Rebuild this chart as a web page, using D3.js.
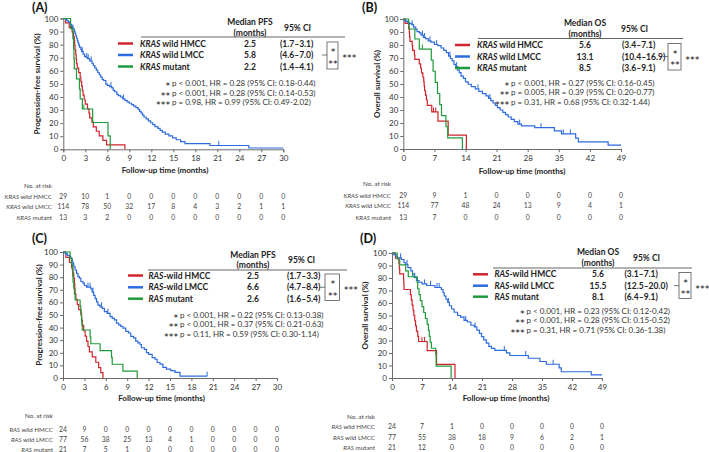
<!DOCTYPE html>
<html><head><meta charset="utf-8">
<script src="https://cdn.jsdelivr.net/npm/d3@7"></script>
<style>body{margin:0;background:#fff}svg{display:block;font-family:Lato,"Open Sans",sans-serif}</style>
</head><body><svg id="c" width="709" height="452"></svg>
<script>
// ---------------- DATA ----------------
// Kaplan-Meier steps: [time (months), survival (%)]
const aHmcc = [[0,100],[0.3,96.6],[0.8,93.1],[1.2,89.7],[1.4,86.2],[1.5,82.8],[1.55,79.3],[1.6,75.9],[1.7,72.4],[1.75,69],[1.8,65.5],[1.9,62.1],[2.1,58.6],[2.3,55.2],[2.4,51.7],[2.5,48.3],[2.6,44.8],[2.7,41.4],[2.85,37.9],[3.0,34.5],[3.3,31],[3.5,27.6],[3.6,24.1],[3.9,20.7],[4.1,17.2],[4.5,13.8],[4.9,10.3],[5.4,6.9],[5.9,3.4],[8.4,0]];
const aLmcc = [[0,100],[0.3,99.1],[0.5,98.2],[0.7,97.4],[0.9,95.6],[1.1,93.9],[1.3,92.1],[1.5,90.4],[1.6,88.6],[1.7,86.8],[1.8,85.1],[1.9,83.3],[2.0,81.6],[2.1,79.8],[2.2,78.1],[2.4,76.3],[2.5,74.6],[2.7,72.8],[2.9,71.1],[3.1,70.2],[3.3,69.3],[3.6,67.6],[3.9,65.8],[4.1,64.0],[4.3,62.3],[4.5,60.5],[4.7,58.7],[4.9,57.0],[5.1,55.2],[5.3,53.5],[5.5,52.6],[5.8,49.9],[6.0,48.9],[6.3,47.9],[6.6,46.9],[6.8,45.0],[7.0,44.0],[7.3,42.0],[7.5,41.0],[7.8,40.0],[8.1,38.5],[8.4,37.4],[8.7,36.3],[9.0,35.2],[9.3,34.1],[9.6,33.0],[9.9,31.9],[10.2,30.5],[10.4,29.0],[10.6,27.6],[10.8,26.1],[11.0,24.7],[11.3,23.2],[11.6,21.8],[11.9,20.3],[12.2,18.9],[12.5,17.4],[12.9,16.0],[13.2,14.5],[13.5,13.1],[13.9,11.6],[14.4,10.2],[14.9,8.7],[15.4,7.3],[16.0,5.8],[16.6,4.4],[20.0,2.9],[25.3,1.0],[30,1.0]];
const aMut = [[0,100],[1.0,92.3],[1.3,84.6],[1.4,76.9],[1.45,69.2],[1.5,61.5],[1.8,53.8],[2.2,46.2],[2.3,38.5],[2.6,30.8],[4.0,20.5],[6.1,10.3],[6.4,0]];
const aCensor = [[], [1.3,2.6,3.2,3.4,3.8,6.5,8.2,21.2], [2.8]];

const bHmcc = [[0,100],[0.4,96.6],[1.3,93.1],[1.35,89.7],[1.4,86.2],[1.5,82.8],[2.0,79.3],[2.1,75.9],[2.5,72.4],[2.6,69],[3.6,65.5],[3.9,62.1],[4.1,58.6],[4.4,55.2],[4.6,51.7],[4.7,48.3],[4.8,44.8],[5.0,41.4],[5.2,37.9],[5.4,33.5],[6.4,28.5],[7.8,21.4],[10.1,10.7],[14.2,0]];
const bLmcc = [[0,100],[0.3,99.1],[0.6,98.2],[1.0,97.4],[1.4,96.5],[1.9,95.6],[2.3,93.8],[2.8,92.0],[3.1,90.3],[3.6,89.4],[4.0,87.6],[4.5,85.8],[5.0,84.9],[5.6,83.1],[6.2,82.2],[7.0,80.4],[7.8,79.5],[8.5,77.7],[9.1,75.9],[9.7,74.1],[10.2,71.4],[10.6,69.6],[11.0,67.8],[11.4,65.1],[11.8,63.3],[12.2,60.6],[12.6,58.8],[13.0,56.1],[13.5,54.3],[14.0,51.6],[14.6,49.8],[15.3,48.0],[16.2,46.2],[17.0,44.4],[17.8,42.6],[18.6,40.8],[19.2,39.0],[19.7,37.2],[20.2,35.4],[20.7,33.6],[21.2,31.8],[21.8,30.0],[22.4,28.2],[23.0,26.4],[23.6,24.6],[24.3,22.8],[25.0,21.0],[25.8,19.2],[26.6,17.8],[29.6,16.4],[34.0,14.0],[35.6,11.6],[38.8,8.3],[39.4,5.5],[46.1,3.0],[49,3.0]];
const bMut = [[0,100],[1.2,92.3],[2.6,84.6],[3.6,76.9],[6.3,68.4],[6.7,59.8],[7.2,51.3],[7.7,42.7],[8.2,34.2],[8.6,25.6],[9.6,17.1],[10.0,8.5],[13.3,0]];
const bCensor = [[6.8,7.3], [2.0,4.3,4.8,6.0,7.5,10.5,12.0,16.8,19.5,26.2,31.0,36.0,37.6], [4.3]];

const cHmcc = [[0,100],[0.4,95.8],[0.9,91.7],[1.2,87.5],[1.4,83.3],[1.5,79.2],[1.6,75],[1.65,70.8],[1.7,66.7],[1.8,62.5],[2.0,58.3],[2.2,54.2],[2.5,50],[2.6,45.8],[2.7,41.7],[2.9,37.5],[3.1,33.3],[3.3,29.2],[3.5,25],[3.7,20.8],[4.1,16.7],[4.6,12.5],[5.0,8.3],[5.3,4.2],[5.6,0]];
const cLmcc = [[0,100],[0.3,98.7],[0.6,97.4],[0.9,96.1],[1.1,94.8],[1.3,92.2],[1.4,90.9],[1.5,88.3],[1.7,85.7],[1.9,83.1],[2.1,80.5],[2.3,79.2],[2.5,76.6],[2.8,75.3],[3.0,73.4],[3.3,72.1],[3.9,70.8],[4.1,68.2],[4.3,65.6],[4.5,63.0],[4.7,60.4],[4.9,57.8],[5.2,56.5],[5.5,55.2],[5.8,52.6],[6.2,51.3],[6.6,48.7],[6.9,47.4],[7.2,46.1],[7.5,43.5],[7.8,42.2],[8.1,40.9],[8.4,39.6],[8.8,37.0],[9.2,35.7],[9.5,33.1],[9.9,31.8],[10.2,29.2],[10.5,27.9],[10.8,26.6],[11.0,24.0],[11.4,22.7],[11.7,20.1],[12.0,18.8],[12.5,16.2],[12.9,14.9],[13.2,12.3],[13.6,11.0],[14.0,8.4],[14.5,7.1],[15.1,5.8],[15.7,4.5],[16.4,1.5],[20.2,1.5]];
const cMut = [[0,100],[1.0,95.2],[1.2,90.5],[1.3,85.7],[1.35,81],[1.4,76.2],[1.5,71.4],[1.6,66.7],[1.7,61.9],[2.4,57.1],[2.5,52.4],[2.6,47.6],[2.65,42.9],[2.7,38.1],[3.8,32.7],[3.9,27.2],[5.2,21.8],[6.8,16.3],[6.9,10.9],[8.4,5.4],[10.4,0]];
const cCensor = [[], [3.5,3.8,4.2,5.4,6.3,20.2], []];

const dHmcc = [[0,100],[0.8,95.8],[1.6,91.7],[1.7,87.5],[1.8,83.3],[2.7,79.2],[2.75,75],[2.8,70.8],[4.3,66.7],[4.5,62.5],[4.7,58.3],[4.9,54.2],[5.1,50],[5.3,45.8],[5.5,41.7],[5.7,37.5],[6.0,33.3],[6.2,29.2],[8.2,21.9],[10.4,10.9],[14.7,0]];
const dLmcc = [[0,100],[0.4,98.7],[0.9,97.4],[1.3,96.1],[2.2,94.8],[2.8,92.2],[3.2,90.9],[3.7,88.3],[4.4,85.7],[4.8,83.1],[5.2,80.5],[5.7,77.9],[6.3,76.6],[7.0,75.3],[8.1,74.0],[10.0,72.4],[11.5,70.8],[11.9,68.2],[12.2,65.6],[12.6,63.0],[13.0,60.4],[13.4,57.8],[13.9,55.2],[14.5,52.6],[15.3,50.0],[16.0,48.7],[16.8,46.1],[17.6,44.8],[18.4,42.2],[19.2,40.9],[19.8,38.3],[20.4,35.7],[20.9,33.1],[21.4,30.5],[22.0,27.9],[22.6,25.3],[23.2,23.7],[24.0,22.1],[26.7,20.1],[27.5,18.0],[31.8,15.8],[34.5,13.2],[36.0,11.0],[39.0,8.1],[39.5,5.0],[46.5,2.5],[49,2.5]];
const dMut = [[0,100],[1.2,95.2],[1.8,90.5],[3.2,85.7],[3.8,81],[5.9,76.2],[6.0,71.4],[6.3,66.7],[6.6,61.9],[7.0,57.1],[7.4,52.4],[7.8,47.6],[8.2,42.9],[8.5,38.1],[8.7,33.3],[8.9,28.6],[9.2,23.8],[10.2,19],[10.3,9.5],[13.8,0]];
const dCensor = [[7.0,7.6], [2.0,3.5,5.3,7.6,9.0,10.5,11.0,13.2,17.2,19.4,26.2,31.2,37.6], [4.8]];

// Legend / table text
const aGroups = [["KRAS"," wild HMCC"],["KRAS"," wild LMCC"],["KRAS"," mutant"]];
const cGroups = [["RAS","-wild HMCC"],["RAS","-wild LMCC"],["RAS"," mutant"]];
const aRiskNames = [["KRAS"," wild HMCC"],["KRAS"," wild LMCC"],["KRAS"," mutant"]];
const cRiskNames = [["RAS"," wild HMCC"],["RAS"," wild LMCC"],["RAS"," mutant"]];
const aMedian = ["2.5","5.8","2.2"], aCI = ["(1.7–3.1)","(4.6–7.0)","(1.4–4.1)"];
const bMedian = ["5.6","13.1","8.5"], bCI = ["(3.4–7.1)","(10.4–16.9)","(3.6–9.1)"];
const cMedian = ["2.5","6.6","2.6"], cCI = ["(1.7–3.3)","(4.7–8.4)","(1.6–5.4)"];
const dMedian = ["5.6","15.5","8.1"], dCI = ["(3.1–7.1)","(12.5–20.0)","(6.4–9.1)"];
const aStats = ["p < 0.001, HR = 0.28 (95% CI: 0.18-0.44)","p < 0.001, HR = 0.28 (95% CI: 0.14-0.53)","p = 0.98, HR = 0.99 (95% CI: 0.49-2.02)"];
const bStats = ["p < 0.001, HR = 0.27 (95% CI: 0.16-0.45)","p = 0.005, HR = 0.39 (95% CI: 0.20-0.77)","p = 0.31, HR = 0.68 (95% CI: 0.32-1.44)"];
const cStats = ["p < 0.001, HR = 0.22 (95% CI: 0.13-0.38)","p < 0.001, HR = 0.37 (95% CI: 0.21-0.63)","p = 0.11, HR = 0.59 (95% CI: 0.30-1.14)"];
const dStats = ["p < 0.001, HR = 0.23 (95% CI: 0.12-0.42)","p < 0.001, HR = 0.28 (95% CI: 0.15-0.52)","p = 0.31, HR = 0.71 (95% CI: 0.36-1.38)"];
const starLabels = ["∗","∗∗","∗∗∗"];
// Number at risk
const aRisk = [[29,10,1,0,0,0,0,0,0,0,0],[114,78,50,32,17,8,4,3,2,1,1],[13,3,2,0,0,0,0,0,0,0,0]];
const bRisk = [[29,9,1,0,0,0,0,0],[114,77,48,24,13,9,4,1],[13,7,0,0,0,0,0,0]];
const cRisk = [[24,9,0,0,0,0,0,0,0,0,0],[77,56,38,25,13,4,1,0,0,0,0],[21,7,5,1,0,0,0,0,0,0,0]];
const dRisk = [[24,7,1,0,0,0,0,0],[77,55,38,18,9,6,2,1],[21,12,0,0,0,0,0,0]];
const pfsTicks = [0,3,6,9,12,15,18,21,24,27,30];
const osTicks = [0,7,14,21,28,35,42,49];
const yTicks = [0,10,20,30,40,50,60,70,80,90,100];

// ---------------- DRAW ----------------
const COLORS = ["#d0232b","#2c6be0","#1f9a3b"];
const svg = d3.select("#c");
const STAR_FONT = "'DejaVu Sans',sans-serif";

function sAt(data, t){ let v = data[0][1]; for(const d of data){ if(d[0] <= t) v = d[1]; } return v; }
function italicLabel(sel, parts){ sel.append("tspan").attr("font-style","italic").text(parts[0]); sel.append("tspan").text(parts[1]); }
function stars(g, xp, yp, txt, anchor){
  return g.append("text").attr("x",xp).attr("y",yp).attr("text-anchor",anchor).attr("font-size",6.3)
    .attr("letter-spacing",-0.5).attr("font-family",STAR_FONT).attr("fill","#333").text(txt);
}

function panel(P){
  const g = svg.append("g");
  const x = d3.scaleLinear().domain([0, P.ticks[P.ticks.length-1]]).range([P.x0, P.x1]);
  const y = d3.scaleLinear().domain([0,100]).range([P.yB, P.yT]);
  g.append("text").attr("x",P.titleX).attr("y",P.titleY).attr("font-size",12.5).attr("font-weight",700).attr("fill","#111").text(P.title);
  const ya = g.append("g").attr("transform",`translate(${P.x0},0)`).call(d3.axisLeft(y).tickValues(yTicks).tickSize(3).tickPadding(2));
  const xa = g.append("g").attr("transform",`translate(0,${P.yB})`).call(d3.axisBottom(x).tickValues(P.ticks).tickSize(3).tickPadding(3));
  [ya,xa].forEach(a=>{ a.select(".domain").attr("stroke","#6b6b6b"); a.selectAll(".tick line").attr("stroke","#6b6b6b"); a.selectAll("text").attr("font-size",8).attr("fill","#333").attr("font-family","Lato,sans-serif"); });
  g.append("text").attr("transform",`translate(${P.yLabelX},${(P.yT+P.yB)/2}) rotate(-90)`).attr("text-anchor","middle").attr("font-size",8).attr("font-weight",700).attr("fill","#222").text(P.yLabel);
  g.append("text").attr("x",P.xLabelX).attr("y",P.xLabelY).attr("text-anchor","middle").attr("font-size",8).attr("font-weight",700).attr("fill","#222").text("Follow-up time (months)");
  const line = d3.line().x(d=>x(d[0])).y(d=>y(d[1])).curve(d3.curveStepAfter);
  P.series.forEach((s,i)=>{
    g.append("path").datum(s).attr("d",line).attr("fill","none").attr("stroke",COLORS[i]).attr("stroke-width",1.2);
    g.selectAll(null).data(P.censor[i]).enter().append("line")
      .attr("x1",t=>x(t)).attr("x2",t=>x(t)).attr("y1",t=>y(sAt(s,t))).attr("y2",t=>y(sAt(s,t))-4.5)
      .attr("stroke",COLORS[i]).attr("stroke-width",1);
  });
  const L = P.leg;
  g.append("text").attr("x",L.medX).attr("y",L.head1Y).attr("text-anchor","middle").attr("font-size",8.5).attr("font-weight",700).attr("fill","#222").text(P.medName);
  g.append("text").attr("x",L.medX).attr("y",L.head1Y+10.5).attr("text-anchor","middle").attr("font-size",8.5).attr("font-weight",700).attr("fill","#222").text("(months)");
  g.append("text").attr("x",L.ciHeadX).attr("y",L.head1Y+5.5).attr("font-size",8.5).attr("font-weight",700).attr("fill","#222").text("95% CI");
  g.append("line").attr("x1",L.ruleX0).attr("x2",L.ruleX1).attr("y1",L.ruleY).attr("y2",L.ruleY).attr("stroke","#666").attr("stroke-width",1.2);
  L.rows.forEach((ry,i)=>{
    g.append("line").attr("x1",L.lineX0).attr("x2",L.lineX1).attr("y1",ry).attr("y2",ry).attr("stroke",COLORS[i]).attr("stroke-width",2.5);
    italicLabel(g.append("text").attr("x",L.textX).attr("y",ry+3).attr("font-size",8.5).attr("font-weight",700).attr("fill","#222"), P.groups[i]);
    g.append("text").attr("x",L.medX).attr("y",ry+3).attr("text-anchor","middle").attr("font-size",8.5).attr("font-weight",700).attr("fill","#222").text(P.median[i]);
    g.append("text").attr("x",L.ciX).attr("y",ry+3).attr("font-size",8.5).attr("font-weight",700).attr("fill","#222").text(P.ci[i]);
  });
  const B = L.br;
  g.append("rect").attr("x",B.l).attr("y",B.t).attr("width",B.r-B.l).attr("height",B.b-B.t).attr("fill","none").attr("stroke","#555").attr("stroke-width",0.8);
  g.append("line").attr("x1",B.l-5).attr("x2",B.l).attr("y1",L.rows[1]).attr("y2",L.rows[1]).attr("stroke","#555").attr("stroke-width",0.8);
  stars(g,(B.l+B.r)/2+0.3,(L.rows[0]+L.rows[1])/2+3,starLabels[0],"middle");
  stars(g,(B.l+B.r)/2+0.3,(L.rows[1]+L.rows[2])/2+3,starLabels[1],"middle");
  stars(g,B.r+4,L.rows[1]+3,starLabels[2],"start");
  P.stats.forEach((s,i)=>{
    stars(g,L.statP-2,L.statY[i],starLabels[i],"end");
    g.append("text").attr("x",L.statP).attr("y",L.statY[i]).attr("font-size",8).attr("fill","#333").text(s);
  });
  const R = P.risk;
  g.append("text").attr("x",R.labelEnd).attr("y",R.headY).attr("text-anchor","end").attr("font-size",6.3).attr("fill","#444").text("No. at risk");
  P.riskData.forEach((row,i)=>{
    italicLabel(g.append("text").attr("x",R.labelEnd).attr("y",R.rows[i]).attr("text-anchor","end").attr("font-size",6.2).attr("fill","#444"), P.riskNames[i]);
    g.selectAll(null).data(row).enter().append("text").attr("x",(d,k)=>x(P.ticks[k])).attr("y",R.rows[i]).attr("text-anchor","middle").attr("font-size",6.8).attr("fill","#444").text(d=>d);
  });
}

panel({title:"(A)",titleX:32,titleY:12,x0:63.3,x1:283.3,yT:18.5,yB:149.3,ticks:pfsTicks,yLabel:"Progression-free survival (%)",yLabelX:40,xLabelX:165,xLabelY:173,
  series:[aHmcc,aLmcc,aMut],censor:aCensor,groups:aGroups,riskNames:aRiskNames,median:aMedian,ci:aCI,stats:aStats,medName:"Median PFS",riskData:aRisk,
  leg:{lineX0:118,lineX1:133,textX:140,medX:250,ciX:280,ciHeadX:284,head1Y:25,ruleY:37,ruleX0:141,ruleX1:345,rows:[43.5,55,66.5],br:{l:327,r:338,t:42,b:69},statP:172,statY:[85.5,95.5,104.5]},
  risk:{labelEnd:52,headY:187.5,rows:[199,209,219.5]}});
panel({title:"(B)",titleX:362,titleY:12,x0:403.3,x1:621,yT:19,yB:149,ticks:osTicks,yLabel:"Overall survival (%)",yLabelX:380,xLabelX:522,xLabelY:174,
  series:[bHmcc,bLmcc,bMut],censor:bCensor,groups:aGroups,riskNames:aRiskNames,median:bMedian,ci:bCI,stats:bStats,medName:"Median OS",riskData:bRisk,
  leg:{lineX0:455,lineX1:470,textX:477,medX:585,ciX:622,ciHeadX:621,head1Y:26,ruleY:38.5,ruleX0:478,ruleX1:683,rows:[45,56.5,68],br:{l:668,r:681,t:43.5,b:70},statP:511,statY:[85.5,95,105]},
  risk:{labelEnd:391,headY:186,rows:[197.5,208,220]}});
panel({title:"(C)",titleX:32,titleY:243,x0:63,x1:277,yT:252,yB:378,ticks:pfsTicks,yLabel:"Progression-free survival (%)",yLabelX:41.5,xLabelX:161.5,xLabelY:401,
  series:[cHmcc,cLmcc,cMut],censor:cCensor,groups:cGroups,riskNames:cRiskNames,median:cMedian,ci:cCI,stats:cStats,medName:"Median PFS",riskData:cRisk,
  leg:{lineX0:128,lineX1:143,textX:148.5,medX:253,ciX:287,ciHeadX:288,head1Y:257.5,ruleY:270,ruleX0:148,ruleX1:347,rows:[275.5,287.3,298.7],br:{l:325,r:339.5,t:274,b:300.5},statP:180,statY:[317.5,327,337]},
  risk:{labelEnd:53,headY:417.5,rows:[432.3,442.3,451.8]}});
panel({title:"(D)",titleX:360,titleY:243,x0:392,x1:602,yT:253,yB:378,ticks:osTicks,yLabel:"Overall survival (%)",yLabelX:368,xLabelX:506,xLabelY:401,
  series:[dHmcc,dLmcc,dMut],censor:dCensor,groups:cGroups,riskNames:cRiskNames,median:dMedian,ci:dCI,stats:dStats,medName:"Median OS",riskData:dRisk,
  leg:{lineX0:473,lineX1:488,textX:494.5,medX:598,ciX:624.5,ciHeadX:633,head1Y:255,ruleY:268,ruleX0:493,ruleX1:692,rows:[274.3,285.7,296.7],br:{l:679,r:691,t:272.5,b:298.5},statP:526.5,statY:[313.5,323,333]},
  risk:{labelEnd:375,headY:419,rows:[429,440,450]}});
</script></body></html>
